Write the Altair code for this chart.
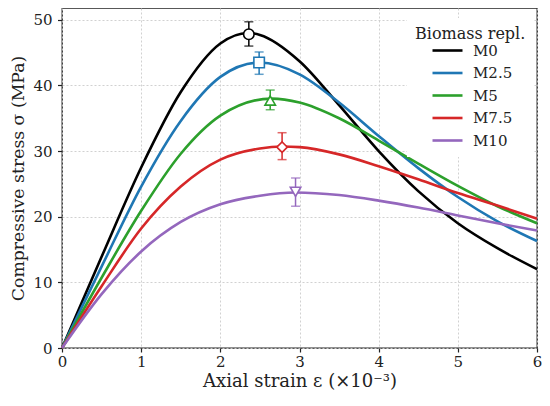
import altair as alt
import pandas as pd

series = ["M0", "M2.5", "M5", "M7.5", "M10"]
colors = ["#000000", "#1f77b4", "#2ca02c", "#d62728", "#9467bd"]
shapes = ["circle", "square", "triangle-up", "diamond", "triangle-down"]

# strain (x10^-3) and stress (MPa)
strain_M0 = [0, 0.5, 1.0, 1.5, 2.0, 2.35, 2.5, 3.0, 3.5, 4.0, 4.5, 5.0, 5.5, 6.0]
stress_M0 = [0, 13.9, 27.5, 39.0, 46.4, 48.0, 47.7, 43.7, 37.0, 30.0, 23.9, 19.0, 15.2, 12.0]

strain_M25 = [0, 0.5, 1.0, 1.5, 2.0, 2.5, 3.0, 3.5, 4.0, 4.5, 5.0, 5.5, 6.0]
stress_M25 = [0, 12.4, 24.6, 34.6, 41.3, 43.5, 41.7, 37.4, 32.3, 27.4, 23.0, 19.3, 16.3]

strain_M5 = [0, 0.5, 1.0, 1.5, 2.0, 2.65, 3.0, 3.5, 4.0, 4.5, 5.0, 5.5, 6.0]
stress_M5 = [0, 10.7, 20.9, 29.6, 35.4, 38.0, 37.4, 35.0, 31.6, 28.1, 24.7, 21.6, 19.0]

strain_M75 = [0, 0.5, 1.0, 1.5, 2.0, 2.5, 2.78, 3.0, 3.5, 4.0, 4.5, 5.0, 5.5, 6.0]
stress_M75 = [0, 9.4, 18.2, 24.6, 28.7, 30.4, 30.7, 30.6, 29.5, 27.7, 25.7, 23.6, 21.7, 19.7]

strain_M10 = [0, 0.5, 1.0, 1.5, 2.0, 2.5, 2.95, 3.5, 4.0, 4.5, 5.0, 5.5, 6.0]
stress_M10 = [0, 8.2, 14.7, 19.2, 21.9, 23.2, 23.7, 23.3, 22.45, 21.4, 20.2, 19.0, 17.9]

# peak markers with error bars
peak_strain = [2.36, 2.49, 2.63, 2.78, 2.95]
peak_stress = [47.8, 43.5, 37.7, 30.6, 23.8]
err_low = [46.0, 41.7, 36.3, 28.7, 21.6]
err_high = [49.7, 45.1, 39.3, 32.8, 25.9]

curves = [(strain_M0, stress_M0), (strain_M25, stress_M25), (strain_M5, stress_M5),
          (strain_M75, stress_M75), (strain_M10, stress_M10)]
rows = []
for name, (xs, ys) in zip(series, curves):
    for xv, yv in zip(xs, ys):
        rows.append({"series": name, "strain": xv, "stress": yv})
df = pd.DataFrame(rows)

peaks = pd.DataFrame({
    "sample": series, "strain": peak_strain, "stress": peak_stress,
    "lo": err_low, "hi": err_high,
})

FONT = "DejaVu Serif"
xscale = alt.Scale(domain=[0, 6], nice=False, zero=True)
yscale = alt.Scale(domain=[0, 51.8], nice=False, zero=True)

x_enc = alt.X("strain:Q", scale=xscale,
              axis=alt.Axis(title="Axial strain ε (×10⁻³)", values=[0, 1, 2, 3, 4, 5, 6],
                            format="d", labelFlush=False, labelPadding=2, tickSize=4,
                            titlePadding=3, titleFontSize=18))
y_enc = alt.Y("stress:Q", scale=yscale,
              axis=alt.Axis(title="Compressive stress σ (MPa)", values=[0, 10, 20, 30, 40, 50],
                            labelFlush=False, labelPadding=5.5, titlePadding=5,
                            titleFontSize=17.3))

lines = alt.Chart(df).mark_line(strokeWidth=2.6, interpolate="monotone").encode(
    x=x_enc, y=y_enc,
    color=alt.Color("series:N", scale=alt.Scale(domain=series, range=colors), sort=series,
                    legend=alt.Legend(title="Biomass repl.", orient="none",
                                      legendX=345, legendY=10,
                                      symbolType="M-2.5,0L2.5,0", symbolSize=144,
                                      symbolStrokeWidth=2.6,
                                      symbolOffset=25, labelOffset=18,
                                      titleAnchor="start",
                                      fillColor="white", padding=8,
                                      rowPadding=6.5, titlePadding=1)),
    detail="series:N",
)

pcolor = alt.Color("sample:N", scale=alt.Scale(domain=series, range=colors), legend=None)

rules = alt.Chart(peaks).mark_rule(strokeWidth=1.5).encode(
    x="strain:Q", y="lo:Q", y2="hi:Q", color=pcolor,
)
caps_lo = alt.Chart(peaks).mark_tick(orient="horizontal", size=9, thickness=1.5).encode(
    x="strain:Q", y="lo:Q", color=pcolor,
)
caps_hi = alt.Chart(peaks).mark_tick(orient="horizontal", size=9, thickness=1.5).encode(
    x="strain:Q", y="hi:Q", color=pcolor,
)
points = alt.Chart(peaks).mark_point(filled=False, fill="white", fillOpacity=1,
                                     size=110, strokeWidth=1.6, opacity=1).encode(
    x="strain:Q", y="stress:Q", color=pcolor,
    shape=alt.Shape("sample:N", scale=alt.Scale(domain=series, range=shapes), legend=None),
)

markers = alt.layer(rules, caps_lo, caps_hi, points)

chart = alt.layer(lines, markers).resolve_scale(
    color="independent", shape="independent"
).resolve_legend(
    color="independent", shape="independent"
).properties(
    width=475, height=340,
    autosize=alt.AutoSizeParams(type="none"),
    padding={"left": 54, "top": 0, "right": 5, "bottom": 46},
).configure_view(
    stroke="#222222", strokeWidth=1.3
).configure_axis(
    labelFont=FONT, titleFont=FONT, labelFontSize=15,
    labelColor="#222222", titleColor="#222222", titleFontWeight="normal",
    domain=False, tickColor="#222222", tickSize=4.5, tickWidth=1.2,
    grid=True, gridColor="#cccccc", gridDash=[2, 2], gridWidth=0.9,
).configure_legend(
    titleFont=FONT, labelFont=FONT, titleFontSize=16, labelFontSize=15,
    titleFontWeight="normal", titleColor="#222222", labelColor="#222222",
)

chart.save("out.html", embed_options={"renderer": "svg", "actions": False})
